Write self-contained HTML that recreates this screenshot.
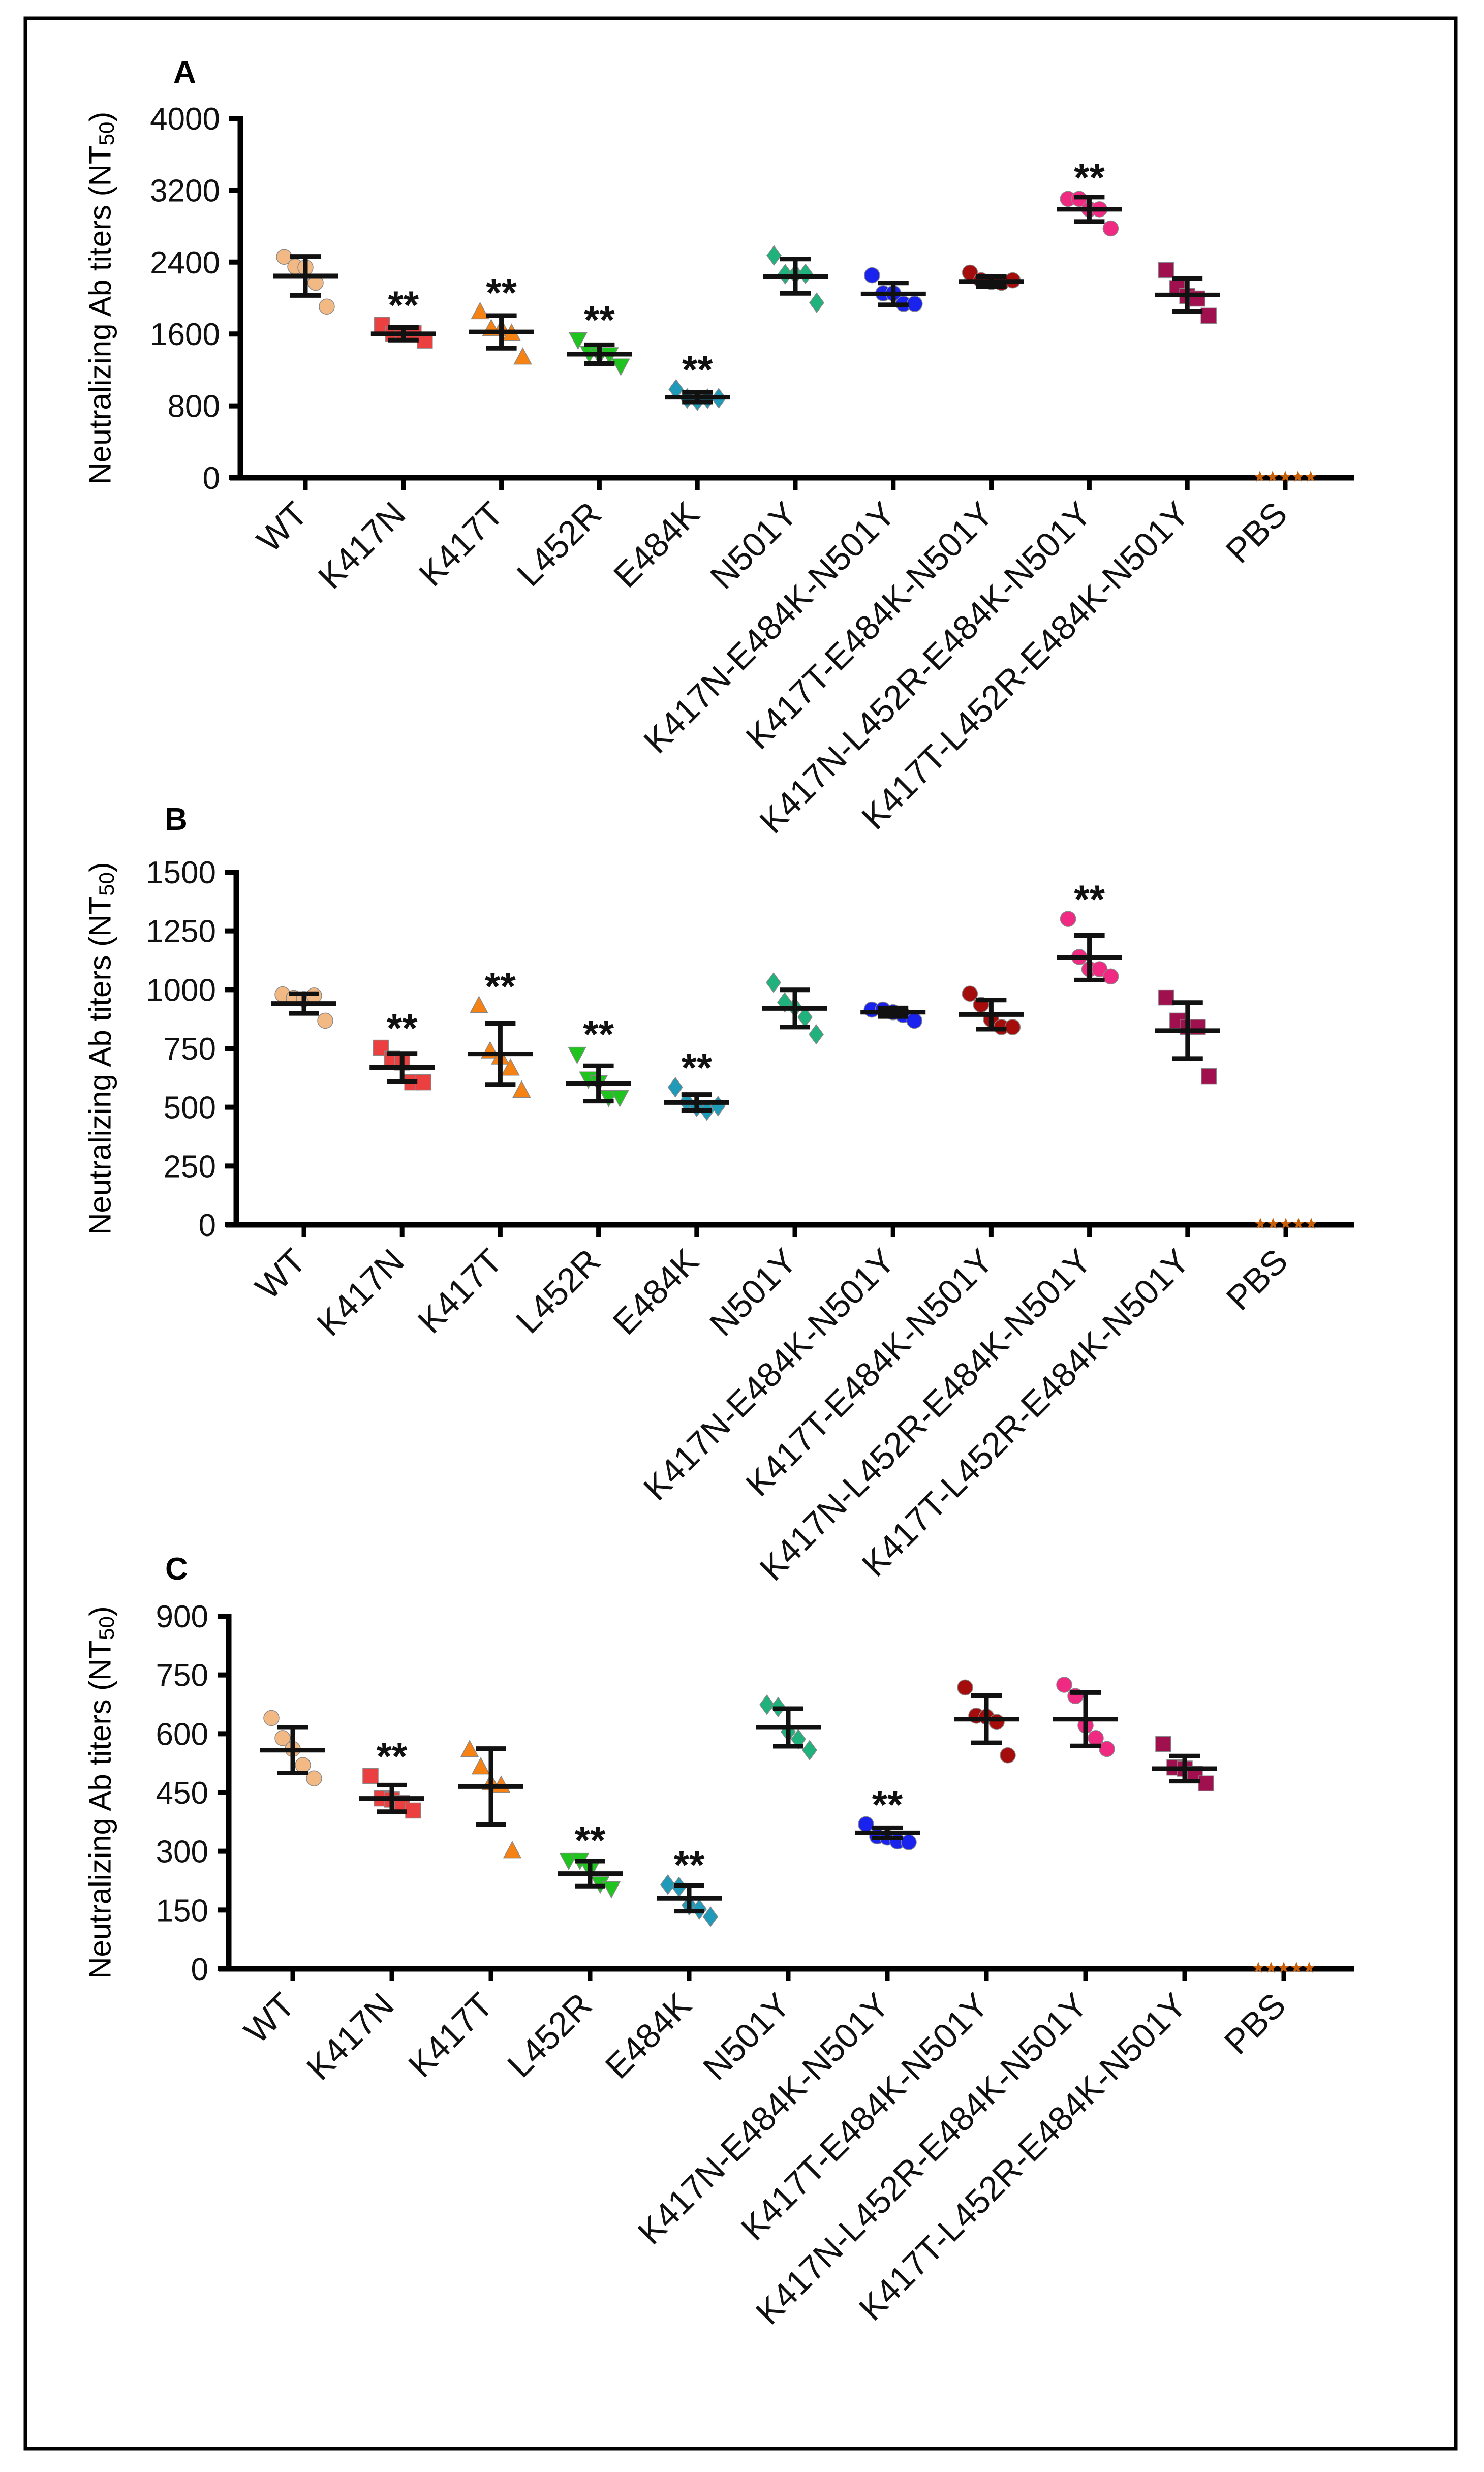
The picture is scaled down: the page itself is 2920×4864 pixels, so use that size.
<!DOCTYPE html>
<html><head><meta charset="utf-8">
<style>html,body{margin:0;padding:0;background:#fff}svg{display:block}</style>
</head><body>
<svg id="fig" xmlns="http://www.w3.org/2000/svg" width="2920" height="4864" viewBox="0 0 2920 4864" font-family="'Liberation Sans', Arial, sans-serif">
<rect x="0" y="0" width="2920" height="4864" fill="#fff"/>
<rect x="50" y="36" width="2814" height="4782" fill="none" stroke="#000" stroke-width="7"/>
</svg>
<script>
const categories = ["WT","K417N","K417T","L452R","E484K","N501Y","K417N-E484K-N501Y","K417T-E484K-N501Y","K417N-L452R-E484K-N501Y","K417T-L452R-E484K-N501Y","PBS"];
const colors = ["#f2b985","#ec3f3f","#f58212","#1fc41f","#1f9ab8","#1fb27c","#1a22ee","#a50c0c","#f02a82","#a0104f","#c8600a"];
const shapes = ["circle","square","triangle","tridown","diamond","diamond","circle","circle","circle","square","star"];

const aPoints = [[2460,2350,2340,2170,1905],[1703,1602,1602,1610,1527],[1842,1653,1653,1602,1337],[1540,1388,1363,1375,1249],[984,883,858,880,885],[2474,2266,2266,2270,1948],[2254,2052,2052,1936,1936],[2283,2197,2180,2170,2197],[3104,3104,2988,2988,2775],[2312,2110,2023,1994,1803],[0,0,0,0,0]];
const aMean = [2246,1602,1623,1375,896,2243,2046,2185,2988,2035,0];
const aSD = [217,70,182,105,53,191,122,55,136,182,0];
const aSig = [false,true,true,true,true,false,false,false,true,false,false];
const aTicks = [0,800,1600,2400,3200,4000];

const bPoints = [[980,965,960,975,868],[753,706,690,606,606],[930,737,711,664,570],[727,622,606,544,544],[585,523,502,486,505],[1030,946,925,883,810],[915,915,904,892,868],[983,936,873,841,841],[1301,1139,1087,1087,1056],[967,868,841,841,632],[0,0,0,0,0]];
const bMean = [941,669,727,601,520,920,904,894,1136,826,0];
const bSD = [42,60,130,75,34,79,18,62,95,119,0];
const bSig = [false,true,true,true,true,false,false,false,true,false,false];
const bTicks = [0,250,500,750,1000,1250,1500];

const cPoints = [[640,589,561,520,486],[492,435,432,423,404],[558,514,473,467,300],[278,278,253,218,206],[215,209,162,152,133],[674,668,605,586,558],[369,338,335,325,323],[718,646,643,630,545],[725,696,621,589,561],[574,514,511,498,473],[0,0,0,0,0]];
const cMean = [558,435,465,243,180,616,347,637,637,511,0];
const cSD = [58,34,97,32,33,48,13,60,68,32,0];
const cSig = [false,true,false,true,true,false,true,false,false,false,false];
const cTicks = [0,150,300,450,600,750,900];

const NS = "http://www.w3.org/2000/svg";
const svg = document.getElementById('fig');
function mk(tag, attrs, parent){ const e=document.createElementNS(NS,tag); for(const k in attrs) e.setAttribute(k,attrs[k]); (parent||svg).appendChild(e); return e; }

function panel(p){
  const g = mk('g',{});
  
  
  const yMax = p.ticks[p.ticks.length-1];
  const yS = v => p.y0 - (v/yMax)*(p.y0-p.yTop);
  const xS = i => p.xFirst + i*p.dx;
  const L = mk('text',{x:p.lx,y:p.ly,'font-size':62,'font-weight':'bold',fill:'#000'},g);
  L.textContent = p.letter;
  
  
  const cy = (p.y0+p.yTop)/2;
  const T = mk('text',{x:197,y:cy,'font-size':60,'text-anchor':'middle','dominant-baseline':'central',transform:`rotate(-90 197 ${cy})`,fill:'#000'},g);
  T.innerHTML = 'Neutralizing Ab titers (NT<tspan font-size="42" dy="12">50</tspan><tspan dy="-12">)</tspan>';
  
  
  const ya = mk('line',{x1:p.ax,y1:p.yTop-4,x2:p.ax,y2:p.y0+5,stroke:'#000','stroke-width':11},g);
  
  
  const xa = mk('line',{x1:p.ax-20,y1:p.y0,x2:2665,y2:p.y0,stroke:'#000','stroke-width':11},g);
  
  
  p.ticks.forEach(t=>{
    const y=yS(t);
    const tk = mk('line',{x1:p.ax-22,y1:y,x2:p.ax,y2:y,stroke:'#000','stroke-width':10},g);
    
    
    const tl = mk('text',{x:p.ax-40,y:y+22,'font-size':62,'text-anchor':'end',fill:'#111'},g);
    tl.textContent = t;
    
    
  });
  categories.forEach((c,i)=>{
    const x=xS(i);
    const tk = mk('line',{x1:x,y1:p.y0,x2:x,y2:p.y0+24,stroke:'#000','stroke-width':9},g);
    
    
    const ax=x+8, ay=p.y0+76;
    const tl = mk('text',{x:ax,y:ay,'font-size':68,'text-anchor':'end',fill:'#111',transform:`rotate(-45 ${ax} ${ay})`},g);
    tl.textContent = c;
    
    
  });
  categories.forEach((c,i)=>{
    const x=xS(i), col=colors[i], sh=shapes[i];
    const grp = mk('g',{},g);
    
    
    const pts = p.points[i];
    const offs = [-42,-20,0,20,42];
    const r=15;
    pts.forEach((v,j)=>{
      const px = i===10 ? x-50+j*25 : x+offs[j];
      const py = yS(v);
      let m;
      if(sh==='circle') m=mk('circle',{cx:px,cy:py,r:r},grp);
      else if(sh==='square') m=mk('rect',{x:px-r,y:py-r,width:2*r,height:2*r},grp);
      else if(sh==='triangle') m=mk('polygon',{points:`${px},${py-19} ${px-17},${py+13} ${px+17},${py+13}`},grp);
      else if(sh==='tridown') m=mk('polygon',{points:`${px},${py+19} ${px-17},${py-13} ${px+17},${py-13}`},grp);
      else if(sh==='diamond') m=mk('polygon',{points:`${px},${py-19} ${px+14},${py} ${px},${py+19} ${px-14},${py}`},grp);
      else {
        let s=''; for(let k=0;k<10;k++){const a=-Math.PI/2+k*Math.PI/5; const rr=k%2?5:12; s+=(px+rr*Math.cos(a))+','+(py-2+rr*Math.sin(a))+' ';}
        m=mk('polygon',{points:s},grp);
      }
      m.setAttribute('fill',col);
      if(sh!=='star'){m.setAttribute('stroke','#888');m.setAttribute('stroke-width','1.5');}
      
      
    });
    if(i<10){
      const mean=p.mean[i], sd=p.sd[i];
      const yt=yS(mean+sd), yb=yS(mean-sd), ym=yS(mean);
      const eb = mk('path',{d:`M${x},${yt}V${yb}M${x-30},${yt}H${x+30}M${x-30},${yb}H${x+30}`,stroke:'#111','stroke-width':9,fill:'none'},grp);
      
      
      const ml = mk('line',{x1:x-64,y1:ym,x2:x+64,y2:ym,stroke:'#111','stroke-width':9},grp);
      
      
      if(p.sig[i]){
        const top = Math.min(yS(Math.max(...pts)), yt);
        const st = mk('text',{x:x,y:top-12,'font-size':78,'font-weight':'bold','text-anchor':'middle',fill:'#111'},grp);
        st.textContent='**';
        
        
      }
    }
  });
}
panel({letter:'A',lx:341,ly:163,ax:473,y0:940,yTop:233,xFirst:601,dx:192.8,ticks:aTicks,points:aPoints,mean:aMean,sd:aSD,sig:aSig});
panel({letter:'B',lx:324,ly:1633,ax:465,y0:2410,yTop:1716,xFirst:598,dx:193.2,ticks:bTicks,points:bPoints,mean:bMean,sd:bSD,sig:bSig});
panel({letter:'C',lx:325,ly:3108,ax:450,y0:3874,yTop:3180,xFirst:576,dx:195,ticks:cTicks,points:cPoints,mean:cMean,sd:cSD,sig:cSig});
</script>
</body></html>
